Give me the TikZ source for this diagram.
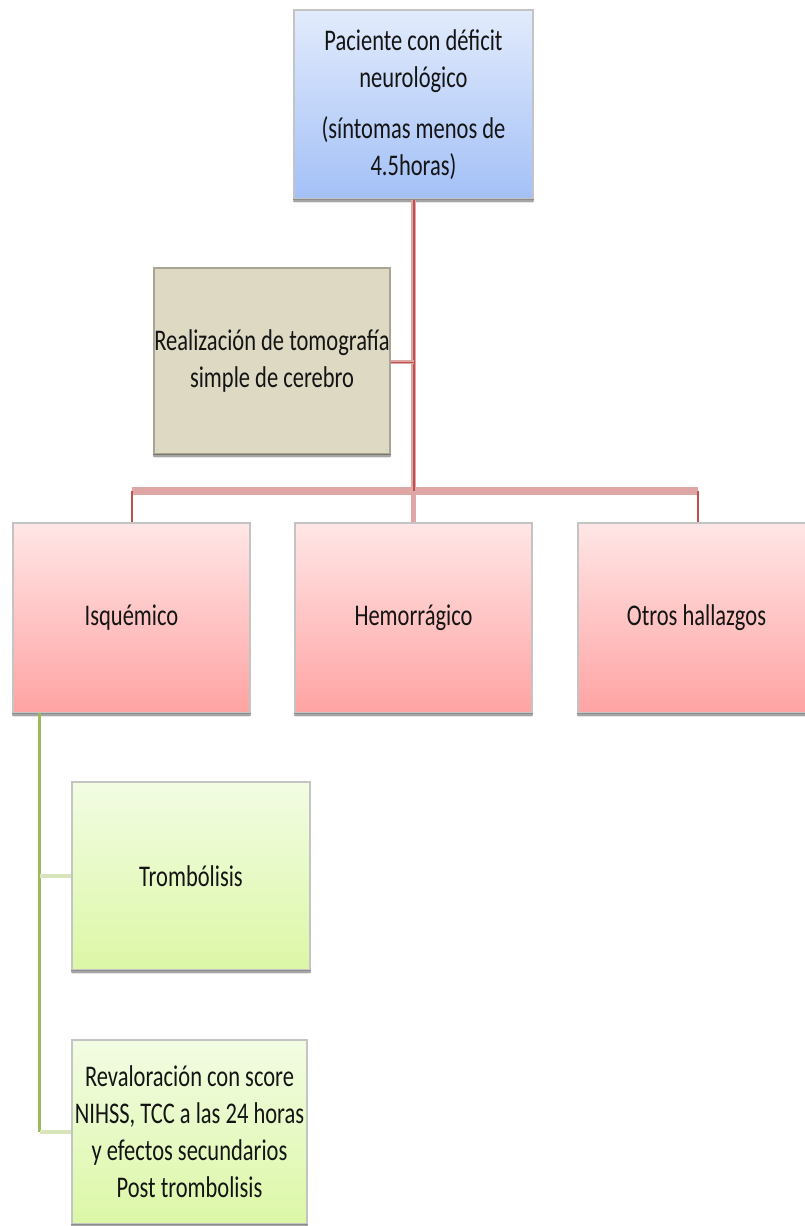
\documentclass[tikz,border=0pt]{standalone}
\usepackage{fontspec}
\setmainfont[FakeStretch=0.75]{Carlito}
\usetikzlibrary{shadows}
\definecolor{blueT}{HTML}{E2EBFC}
\definecolor{blueB}{HTML}{A3C0F7}
\definecolor{tanF}{HTML}{DDD9C3}
\definecolor{redT}{HTML}{FFE6E6}
\definecolor{redB}{HTML}{FFA3A3}
\definecolor{grnT}{HTML}{F2FCE3}
\definecolor{grnB}{HTML}{DCF7A6}
\definecolor{rline}{HTML}{C0504D}
\definecolor{rlight}{HTML}{DFA6A6}
\definecolor{gline}{HTML}{9BBB59}
\definecolor{glight}{HTML}{D7E4BC}
\definecolor{bord}{HTML}{C4C4C4}
\definecolor{tanbord}{HTML}{A8A594}
\tikzset{
  box/.style={draw=bord, line width=2.5pt, inner sep=0pt, align=center,
    font=\fontsize{30}{37}\selectfont, text=black!92,
    drop shadow={shadow xshift=0pt, shadow yshift=-4pt, opacity=0.10, fill=black}},
  bluebox/.style={box, top color=blueT, bottom color=blueB},
  tanbox/.style={box, draw=tanbord, fill=tanF},
  redbox/.style={box, top color=redT, bottom color=redB},
  grnbox/.style={box, top color=grnT, bottom color=grnB},
  botedge/.style={line width=3pt, draw=black, draw opacity=0.28},
  rwide/.style={line width=5pt, draw=rlight},
  rcore/.style={line width=2pt, draw=rline},
  rbar/.style={line width=8pt, draw=rlight},
  gmain/.style={line width=3pt, draw=gline},
  gstub/.style={line width=4pt, draw=glight},
}
\begin{document}
\begin{tikzpicture}[x=1pt,y=-1pt]
\clip (0,0) rectangle (805,1226);
\fill[white] (0,0) rectangle (805,1226);
% nodes
\node[bluebox, minimum width=239pt, minimum height=189pt] (top) at (413.5,104.5)
  {Paciente con déficit\\neurológico\\[14pt](síntomas menos de\\4.5horas)};
\node[tanbox, minimum width=236pt, minimum height=186pt] (tac) at (272,361)
  {Realización de tomografía\\simple de cerebro};
\node[redbox, minimum width=237pt, minimum height=190pt] (isq) at (131.5,618) {Isquémico};
\node[redbox, minimum width=237pt, minimum height=190pt] (hem) at (413.5,618) {Hemorrágico};
\node[redbox, minimum width=237pt, minimum height=190pt] (otr) at (696.5,618) {Otros hallazgos};
\node[grnbox, minimum width=238pt, minimum height=188pt] (trom) at (191,876) {Trombólisis};
\node[grnbox, minimum width=235pt, minimum height=184pt] (rev) at (189.5,1132)
  {Revaloración con score\\NIHSS, TCC a las 24 horas\\y efectos secundarios\\Post trombolisis};
% bottom edges
\foreach \n in {top,tac,isq,hem,otr,trom,rev}
  \draw[botedge] (\n.south west) -- (\n.south east);
% red connectors
\coordinate (j) at (413.5,491);
\coordinate (bl) at (132,491);
\coordinate (br) at (698,491);
\coordinate (tj) at (413.5,362);
\draw[rbar] (bl) -- (br);
\draw[rwide] (top.south) -- (j);
\draw[rcore] (top.south) -- (j);
\draw[rwide, line width=4pt] (tac.east |- tj) -- (tj);
\draw[rline, line width=1pt] (tac.east |- tj) -- (tj);
\draw[rcore] (bl) -- (bl |- isq.north);
\draw[rwide] (j) -- (hem.north);
\draw[rcore] (br) -- (br |- otr.north);
% green connectors
\coordinate (g0) at (39.5,713);
\coordinate (g1) at (39.5,876);
\coordinate (g2) at (39.5,1132);
\draw[gmain] (g0) -- (g2);
\draw[gstub] (g1) -- (trom.west);
\draw[gstub] (g2) -- (rev.west);
\end{tikzpicture}
\end{document}
